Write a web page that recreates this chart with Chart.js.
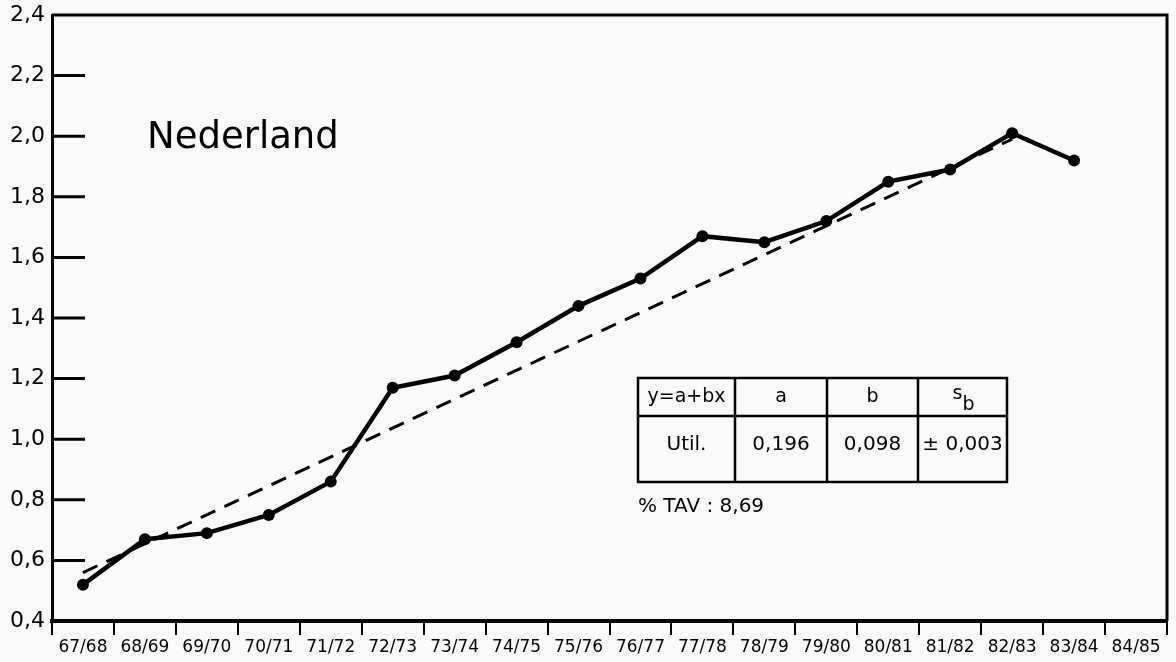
<!DOCTYPE html>
<html>
<head>
<meta charset="utf-8">
<script src="https://cdn.jsdelivr.net/npm/chart.js@4"></script>
<style>
	html, body { margin: 0; padding: 0; background: #fafafa; }
	#wrap { width: 1176px; height: 662px; position: relative; }
</style>
</head>
<body>
<div id="wrap"><canvas id="grafiek" width="1176" height="662"></canvas></div>
<script>
// categorieen (seizoenen)
const seizoenen = [
	"67/68", "68/69", "69/70", "70/71", "71/72", "72/73", "73/74", "74/75", "75/76",
	"76/77", "77/78", "78/79", "79/80", "80/81", "81/82", "82/83", "83/84", "84/85",
];
// waarden
const nederland = [
	0.52, 0.67, 0.69, 0.75, 0.86, 1.17, 1.21, 1.32, 1.44,
	1.53, 1.67, 1.65, 1.72, 1.85, 1.89, 2.01, 1.92, null,
];
const trend = [
	0.56, null, null, null, null, null, null, null, null,
	null, null, null, null, null, null, 1.99, null, null,
];
const yMin = 0.4;
const yMax = 2.4;
const yStap = 0.2;

// tabel met regressie
const tabelKop = ["y=a+bx", "a", "b", "s"];
const tabelRij = ["Util.", "0,196", "0,098", "± 0,003"];
const tavTekst = "% TAV : 8,69";
const titel = "Nederland";

const lettertype = "'DejaVu Sans', sans-serif";

const extraTekening = {
	id: "extraTekening",
	afterDraw(chart) {
		const ctx = chart.ctx;
		const area = chart.chartArea;
		const y = chart.scales.y;
		ctx.save();
		ctx.strokeStyle = "#000";
		// bovenrand en rechterrand
		ctx.lineWidth = 3;
		ctx.beginPath();
		ctx.moveTo(area.left, area.top);
		ctx.lineTo(area.right, area.top);
		ctx.lineTo(area.right, area.bottom);
		ctx.stroke();
		// korte streepjes binnen de as
		ctx.lineWidth = 3;
		y.ticks.forEach((t) => {
			if (t.value <= yMin + 0.001 || t.value >= yMax - 0.001) return;
			const py = y.getPixelForValue(t.value);
			ctx.beginPath();
			ctx.moveTo(area.left, py);
			ctx.lineTo(area.left + 33, py);
			ctx.stroke();
		});
		// titel
		ctx.fillStyle = "#000";
		ctx.font = "37px " + lettertype;
		ctx.textBaseline = "middle";
		ctx.textAlign = "left";
		ctx.fillText(titel, 147, 138);

		// tabel
		const kolommen = [638, 735, 827, 918, 1007];
		const rijen = [378, 416, 482];
		ctx.lineWidth = 2.5;
		ctx.strokeRect(kolommen[0], rijen[0], kolommen[4] - kolommen[0], rijen[2] - rijen[0]);
		ctx.beginPath();
		ctx.moveTo(kolommen[0], rijen[1]);
		ctx.lineTo(kolommen[4], rijen[1]);
		for (let i = 1; i < 4; i++) {
			ctx.moveTo(kolommen[i], rijen[0]);
			ctx.lineTo(kolommen[i], rijen[2]);
		}
		ctx.stroke();
		ctx.font = "19px " + lettertype;
		ctx.textAlign = "center";
		tabelKop.forEach((tekst, i) => {
			const cx = (kolommen[i] + kolommen[i + 1]) / 2;
			if (i === 3) {
				ctx.fillText(tekst, cx - 5, 394);
				ctx.font = "19px " + lettertype;
				ctx.fillText("b", cx + 6, 405);
			} else {
				ctx.fillText(tekst, cx, 397);
			}
		});
		ctx.font = "20px " + lettertype;
		tabelRij.forEach((tekst, i) => {
			const cx = (kolommen[i] + kolommen[i + 1]) / 2;
			ctx.fillText(tekst, cx, 445);
		});
		ctx.textAlign = "left";
		ctx.font = "20px " + lettertype;
		ctx.fillText(tavTekst, 638, 507);
		ctx.restore();
	},
};

const ctx = document.getElementById("grafiek").getContext("2d");
new Chart(ctx, {
	type: "line",
	data: {
		labels: seizoenen,
		datasets: [
			{
				label: "Util.",
				data: nederland,
				borderColor: "#000",
				backgroundColor: "#000",
				borderWidth: 4.5,
				pointRadius: 6,
				pointBorderWidth: 0,
				tension: 0,
				fill: false,
			},
			{
				label: "trend",
				data: trend,
				borderColor: "#000",
				borderWidth: 3,
				borderDash: [16, 10],
				pointRadius: 0,
				spanGaps: true,
				tension: 0,
				fill: false,
			},
		],
	},
	options: {
		responsive: false,
		animation: false,
		layout: {padding: {top: 15, right: 9, left: 0, bottom: 0}},
		plugins: {
			legend: {display: false},
			tooltip: {enabled: false},
		},
		scales: {
			x: {
				type: "category",
				offset: true,
				afterFit: (s) => { s.height = 41; },
				grid: {
					offset: true,
					drawOnChartArea: false,
					drawTicks: true,
					tickLength: 14,
					color: "#000",
					lineWidth: 2,
				},
				border: {display: true, color: "#000", width: 4},
				ticks: {
					color: "#000",
					font: {family: lettertype, size: 17},
					padding: 2,
					maxRotation: 0,
					autoSkip: false,
				},
			},
			y: {
				min: yMin,
				max: yMax,
				afterFit: (s) => {
					s.width = 52;
					s.paddingTop = 0;
					s.paddingBottom = 0;
				},
				grid: {drawOnChartArea: false, drawTicks: false},
				border: {display: true, color: "#000", width: 3},
				ticks: {
					stepSize: yStap,
					color: "#000",
					font: {family: lettertype, size: 22},
					padding: 7,
					callback: (v) => Number(v).toFixed(1).replace(".", ","),
				},
			},
		},
	},
	plugins: [extraTekening],
});
</script>
</body>
</html>
